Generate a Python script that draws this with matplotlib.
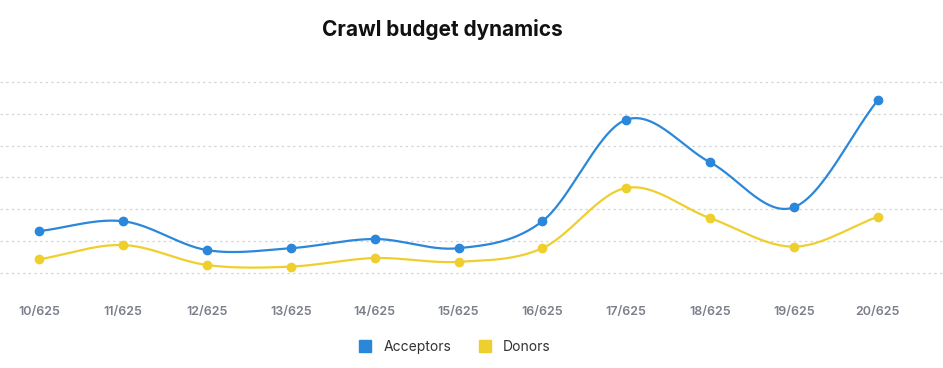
import matplotlib
matplotlib.use("Agg")
import matplotlib.pyplot as plt
from matplotlib.lines import Line2D
import numpy as np

plt.rcParams['font.family'] = ['Inter', 'DejaVu Sans']

dates = ['10/625', '11/625', '12/625', '13/625', '14/625', '15/625',
         '16/625', '17/625', '18/625', '19/625', '20/625']
acceptors = [131, 162, 71, 77, 106, 77, 162, 482, 348, 206, 543]
donors = [42, 87, 24, 19, 46, 34, 77, 267, 172, 82, 176]

blue = '#2b87da'
yellow = '#eecf2e'


def smooth(x, y, steps=30, k=0.5):
    # cardinal spline through all points, just for drawing the curve
    x = np.asarray(x, float)
    y = np.asarray(y, float)
    n = len(x)
    m = np.zeros(n)
    m[1:-1] = (y[2:] - y[:-2]) / (x[2:] - x[:-2])
    m[0] = (y[1] - y[0]) / (x[1] - x[0])
    m[-1] = (y[-1] - y[-2]) / (x[-1] - x[-2])
    m *= 2 * k
    xs, ys = [], []
    for i in range(n - 1):
        h = x[i + 1] - x[i]
        t = np.linspace(0, 1, steps, endpoint=(i == n - 2))
        h00 = 2 * t**3 - 3 * t**2 + 1
        h10 = t**3 - 2 * t**2 + t
        h01 = -2 * t**3 + 3 * t**2
        h11 = t**3 - t**2
        xs.append(x[i] + t * h)
        ys.append(h00 * y[i] + h10 * h * m[i] + h01 * y[i + 1] + h11 * h * m[i + 1])
    return np.concatenate(xs), np.concatenate(ys)


fig = plt.figure(figsize=(9.43, 3.68), dpi=100)
ax = fig.add_axes([0.0, 0.2255, 1.0, 0.5707])

x = np.arange(len(dates))
for vals, col in [(donors, yellow), (acceptors, blue)]:
    sx, sy = smooth(x, vals)
    ax.plot(sx, sy, color=col, lw=1.6, zorder=3)
    ax.plot(x, vals, 'o', color=col, markersize=6, zorder=4)

ax.set_xlim(-0.47, 10.78)
ax.set_ylim(-39, 623)
ax.set_yticks(np.arange(0, 601, 100))
ax.yaxis.grid(True, color='#d6d6d6', linestyle=(0, (2, 2.5)), lw=0.9)
ax.set_axisbelow(True)
ax.tick_params(axis='y', left=False, labelleft=False)
ax.set_xticks(x)
ax.set_xticklabels(dates, fontsize=9, color='#7a7f8a', fontweight='semibold')
ax.tick_params(axis='x', length=0, pad=15)
for s in ax.spines.values():
    s.set_visible(False)

fig.text(442 / 943, 1 - 30 / 368, 'Crawl budget dynamics', ha='center', va='center',
         fontsize=15, fontweight='bold', color='#111111')

handles = [Line2D([], [], marker='s', linestyle='none', color=blue, markersize=9),
           Line2D([], [], marker='s', linestyle='none', color=yellow, markersize=9)]
fig.legend(handles, ['Acceptors', 'Donors'], loc='center', ncol=2,
           bbox_to_anchor=(451 / 943, 1 - 347 / 368), frameon=False,
           fontsize=10, handletextpad=0.3, columnspacing=1.4,
           labelcolor='#333333')

fig.savefig('out.png', dpi=100)
